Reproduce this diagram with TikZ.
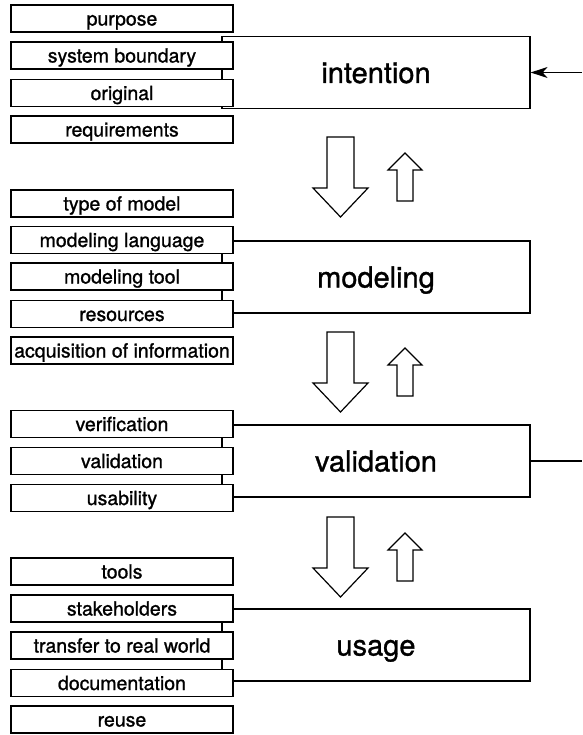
\documentclass[tikz,border=0pt]{standalone}
\usepackage{fontspec}
\setmainfont[FakeBold=1.1]{TeX Gyre Heros}
\usetikzlibrary{arrows.meta}
\begin{document}
\begin{tikzpicture}[x=1pt,y=-1pt,line width=1.2pt,
  smallbox/.style={draw,fill=white,minimum width=222pt,minimum height=27pt,inner sep=0pt,
    text height=15pt,text depth=1pt,font=\fontsize{19.5}{21}\selectfont},
  bigbox/.style={draw,fill=white,minimum width=308pt,minimum height=72pt,inner sep=0pt,
    text height=22pt,text depth=1pt,font=\fontsize{29}{31}\selectfont},
  blockarrow/.style={draw,fill=white,line join=miter}]
\useasboundingbox (0,0) rectangle (582,735);
% big boxes
\node[bigbox] (intention) at (376,72.5) {intention};
\node[bigbox] (modeling) at (376,277) {modeling};
\node[bigbox] (validation) at (376,461) {validation};
\node[bigbox] (usage) at (376,645) {usage};
% small boxes
\node[smallbox] (purpose) at (122,18.5) {purpose};
\node[smallbox] (sysb) at (122,55.5) {system boundary};
\node[smallbox] (orig) at (122,93) {original};
\node[smallbox] (req) at (122,129.5) {requirements};
\node[smallbox] (tom) at (122,203.5) {type of model};
\node[smallbox] (mlang) at (122,240) {modeling language};
\node[smallbox] (mtool) at (122,276.5) {modeling tool};
\node[smallbox] (res) at (122,314) {resources};
\node[smallbox] (acq) at (122,350.5) {acquisition of information};
\node[smallbox] (verif) at (122,424) {verification};
\node[smallbox] (valid) at (122,461) {validation};
\node[smallbox] (usab) at (122,498) {usability};
\node[smallbox] (tools) at (122,571.5) {tools};
\node[smallbox] (stake) at (122,608.5) {stakeholders};
\node[smallbox] (transfer) at (122,645.5) {transfer to real world};
\node[smallbox] (doc) at (122,683) {documentation};
\node[smallbox] (reuse) at (122,719.5) {reuse};
% connectors
\coordinate (inR) at (582,72.5);
\coordinate (valR) at (582,461);
\draw[-{Stealth[length=17pt,width=11pt,inset=5pt]}] (inR) -- (intention.east);
\draw (validation.east) -- (valR);
% block arrows
\foreach \d in {0,195,380}{
  \draw[blockarrow] (327,137+\d) -- (354,137+\d) -- (354,188+\d) -- (368,188+\d)
     -- (340.5,217+\d) -- (313,188+\d) -- (327,188+\d) -- cycle;
  \draw[blockarrow] (405,153+\d) -- (422,170+\d) -- (413,170+\d) -- (413,201+\d)
     -- (397,201+\d) -- (397,170+\d) -- (388,170+\d) -- cycle;
}
\end{tikzpicture}
\end{document}
